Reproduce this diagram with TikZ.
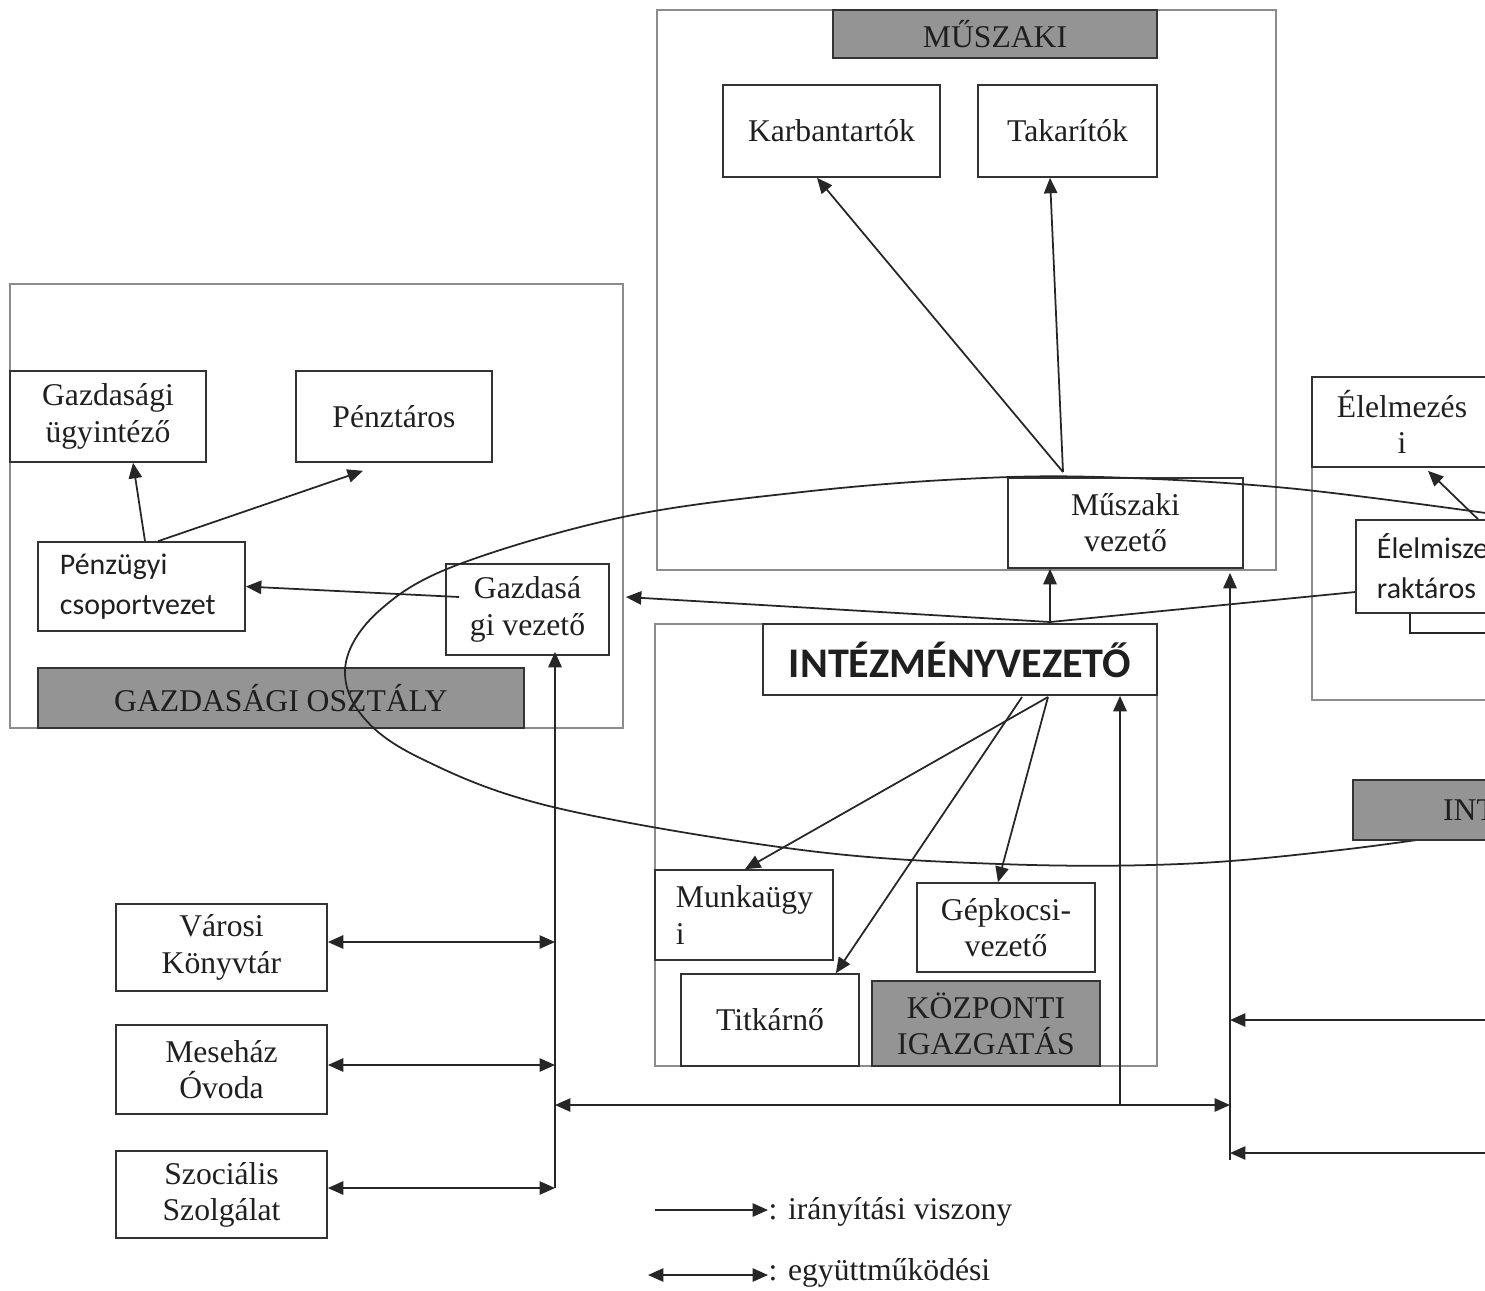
\documentclass[tikz,border=0pt]{standalone}
\usepackage{fontspec}
\setmainfont{Liberation Serif}
\newfontfamily\calib{Carlito}
\usetikzlibrary{arrows.meta,calc}
\hyphenpenalty=10000\relax
\exhyphenpenalty=10000\relax
\begin{document}
\begin{tikzpicture}[x=0.01cm,y=-0.01cm,
  txt/.style={font=\fontsize{9}{10.3}\selectfont, text=black!88},
  box/.style={draw=black!80, line width=0.45pt, inner sep=0pt, align=center, txt},
  gbox/.style={box, fill=black!42},
  sans/.style={font=\calib\fontsize{8.5}{11.4}\selectfont},
  frame/.style={draw=black!45, line width=0.35pt},
  con/.style={draw=black!85, line width=0.5pt},
  arr/.style={con, -{Triangle[length=4.4pt,width=3.8pt]}},
  dbl/.style={con, {Triangle[length=4.4pt,width=3.8pt]}-{Triangle[length=4.4pt,width=3.8pt]}},
]
\useasboundingbox (0,0) rectangle (1485,1290);
\begin{scope}
\clip (0,0) rectangle (1485,1290);

% department frames
\draw[frame] (657,10) rectangle (1276,570);
\draw[frame] (10,284) rectangle (623,728);
\draw[frame] (1312,377) rectangle (1530,700);
\draw[frame] (655,624) rectangle (1157,1066);

% MUSZAKI
\node[gbox, minimum width=3.24cm, minimum height=0.48cm] (muszl) at (995,34) {\raisebox{-0.04cm}{MŰSZAKI}};
\node[box, minimum width=2.17cm, minimum height=0.92cm] (karb) at (831.5,131) {Karbantartók};
\node[box, minimum width=1.79cm, minimum height=0.92cm] (taka) at (1067.5,131) {Takarítók};
\node[box, minimum width=2.35cm, minimum height=0.90cm] (muszvez) at (1125.5,523) {Műszaki\\vezető};

% GAZDASAGI
\node[box, minimum width=1.96cm, minimum height=0.91cm] (gugy) at (108,416.5) {Gazdasági\\ügyintéző};
\node[box, minimum width=1.96cm, minimum height=0.91cm] (penzt) at (394,416.5) {Pénztáros};
\node[box, sans, align=left, text width=1.63cm, minimum width=2.07cm, minimum height=0.89cm] (penzu) at (141.5,586.5) {Pénzügyi\\csoportvezet};
\node[box, minimum width=1.63cm, minimum height=0.91cm] (gvez) at (527.5,609.5) {Gazdasá\\gi vezető};
\node[gbox, minimum width=4.86cm, minimum height=0.60cm] (gosz) at (281,698) {GAZDASÁGI OSZTÁLY};

% ELELMEZES
\node[box, minimum width=1.80cm, minimum height=0.90cm] (elem) at (1402,422) {Élelmezés\\i};
\draw[con] (1410,613) -- (1410,633) -- (1530,633);
\node[box, sans, align=left, text width=1.02cm, minimum width=1.44cm, minimum height=0.93cm] (elrakt) at (1428,566.5) {Élelmisze\\raktáros};

% KOZPONTI IGAZGATAS
\node[box, font=\calib\bfseries\fontsize{12}{14}\selectfont, minimum width=3.94cm, minimum height=0.71cm] (intvez) at (960,659.5) {INTÉZMÉNYVEZETŐ};
\node[box, align=left, text width=1.36cm, minimum width=1.78cm, minimum height=0.90cm] (munka) at (744,915) {Munkaügy\\i};
\node[box, minimum width=1.78cm, minimum height=0.89cm] (gepk) at (1006,927.5) {Gépkocsi-\\vezető};
\node[box, minimum width=1.78cm, minimum height=0.92cm] (titk) at (770,1020) {Titkárnő};
\node[gbox, minimum width=2.28cm, minimum height=0.85cm] (kozp) at (986,1023.5) {KÖZPONTI\\IGAZGATÁS};

% external partners
\node[box, minimum width=2.11cm, minimum height=0.87cm] (varosi) at (221.5,947.5) {Városi\\Könyvtár};
\node[box, minimum width=2.11cm, minimum height=0.89cm] (mese) at (221.5,1069.5) {Meseház\\Óvoda};
\node[box, minimum width=2.11cm, minimum height=0.87cm] (szoc) at (221.5,1194.5) {Szociális\\Szolgálat};

% connectors: Muszaki
\coordinate (mvtop) at (1063,472);
\draw[arr] (mvtop) -- ([xshift=-0.145cm]karb.south);
\draw[arr] (mvtop) -- ([xshift=-0.175cm]taka.south);

% connectors: Gazdasagi
\draw[arr] ([xshift=0.035cm]penzu.north) -- ([xshift=0.25cm]gugy.south);
\draw[arr] ([xshift=0.165cm]penzu.north) -- ([xshift=-0.31cm,yshift=-0.08cm]penzt.south);
\draw[arr] ([xshift=0.14cm,yshift=0.125cm]gvez.west) -- (penzu.east);

% connectors: from Intezmenyvezeto
\coordinate (ivtop) at (1050,622);
\draw[arr] (ivtop) -- ([xshift=0.16cm,yshift=0.125cm]gvez.east);
\draw[arr] (ivtop) -- (ivtop |- muszvez.south);
\draw[con] ([yshift=-0.255cm]elrakt.west) -- (ivtop);
\draw[arr] ([xshift=0.5cm]elrakt.north) -- ([xshift=0.26cm,yshift=-0.03cm]elem.south);

\coordinate (ivbot) at (1048,697);
\draw[arr] (ivbot) -- ([xshift=0.01cm]munka.north);
\draw[arr] ([xshift=-0.26cm]ivbot) -- ([xshift=-0.24cm]titk.north east);
\draw[arr] (ivbot) -- ([xshift=-0.08cm]gepk.north);

% bus lines
\coordinate (b1) at (1120,1105);
\draw[arr] (b1) -- (b1 |- intvez.south);
\coordinate (b2) at (1230,1160);
\draw[arr] (b2) -- ([yshift=-0.04cm]b2 |- muszvez.south);
\coordinate (b3) at (555,1188);
\draw[arr] (b3) -- ([yshift=0.04cm]b3 |- gvez.south);
\draw[dbl] (b3 |- b1) -- (b2 |- b1);
\coordinate (r1) at (1500,1020);
\draw[arr] (r1) -- (r1 -| b2);
\coordinate (r2) at (1500,1153);
\draw[arr] (r2) -- (r2 -| b2);

\coordinate (v1) at ([yshift=0.055cm]varosi.east);
\draw[dbl] (v1) -- (v1 -| b3);
\coordinate (v2) at ([yshift=0.045cm]mese.east);
\draw[dbl] (v2) -- (v2 -| b3);
\coordinate (v3) at ([yshift=0.065cm]szoc.east);
\draw[dbl] (v3) -- (v3 -| b3);

% the large ellipse
\draw[con] plot[smooth, tension=0.6] coordinates {(1500,515) (1287,488) (1100,477) (963,479) (802,492) (623,517) (457,565) (380,610) (346,662) (360,713) (420,758) (553,807) (802,850) (1000,864) (1180,864) (1340,850) (1500,828)};

% partially visible label
\node[gbox, minimum width=1.77cm, minimum height=0.60cm] (intl) at (1441.5,810) {\hspace*{0.56cm}INT};

% legend
\coordinate (l1) at (655,1210);
\node[txt, anchor=west, inner sep=0pt] (l1t) at (768,1212) {: irányítási viszony};
\draw[arr] (l1) -- (l1 -| l1t.west);
\coordinate (l2) at (648,1275);
\node[txt, anchor=west, inner sep=0pt] (l2t) at (768,1273) {: együttműködési};
\draw[dbl] (l2) -- (l2 -| l2t.west);
\end{scope}
\end{tikzpicture}
\end{document}
